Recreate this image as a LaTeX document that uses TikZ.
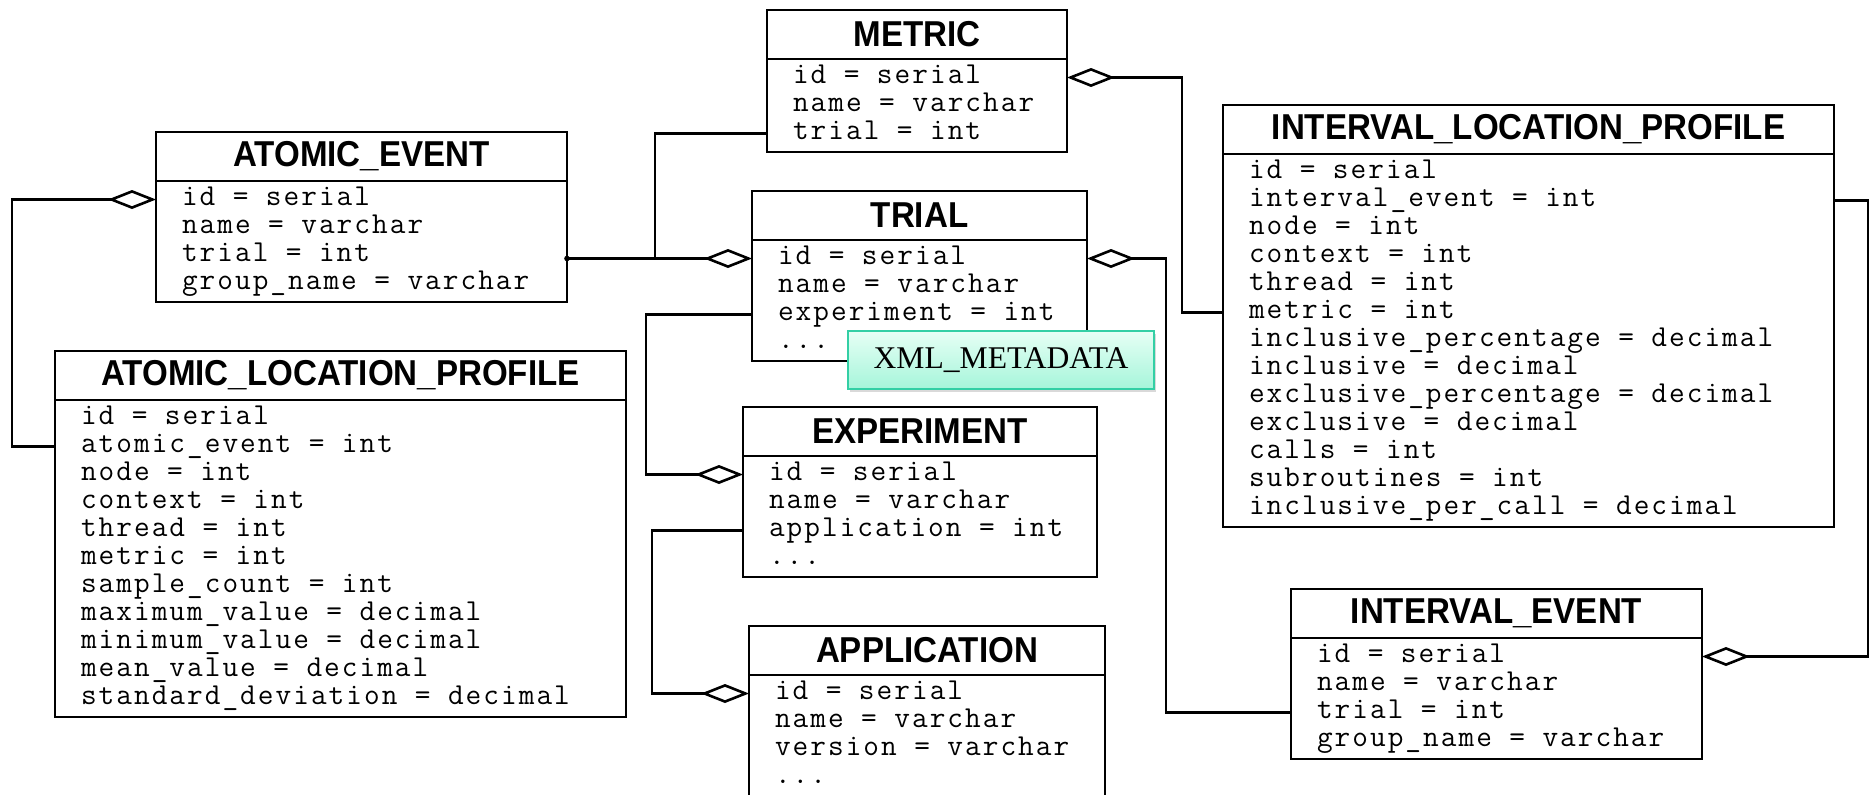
\documentclass[tikz,border=0pt]{standalone}
\usepackage{fontspec}
\newfontfamily\headfont{Liberation Sans}[FakeStretch=0.92]
\newfontfamily\notefont{Liberation Serif}
\newfontfamily\rowfont{Latin Modern Mono}[LetterSpace=6.7]
\usetikzlibrary{arrows.meta}
\usetikzlibrary{shadows}

\definecolor{xmledge}{HTML}{33CFA5}
\definecolor{xmltop}{HTML}{E6FFF5}
\definecolor{xmlbot}{HTML}{A6F5DA}

\begin{document}
\begin{tikzpicture}[x=0.5pt, y=-0.5pt,
		every node/.style={outer sep=0pt},
		head/.style={draw, line width=1.3pt, anchor=north west, minimum height=24.5pt, inner sep=0pt,
			font=\headfont\bfseries\fontsize{18}{18}\selectfont},
		body/.style={draw, line width=1.3pt, anchor=north west, inner xsep=13pt, inner ysep=2.25pt, align=left,
			font=\rowfont\fontsize{15.2}{14}\selectfont,
			execute at begin node={\lineskiplimit=-20pt\spaceskip=8.74pt\relax\strut}, execute at end node=\strut},
		link/.style={black, line width=1.3pt},
		agg/.style={link, -{Diamond[open, length=24pt, width=9.5pt]}}]
				\useasboundingbox (0,0) rectangle (1871,794);
				%
				\node [head, minimum width=150pt] (metric) at (767,10) {METRIC};
				\node [body, text width=124pt] (metricb) at (metric.south west) {id = serial\\name = varchar\\trial = int};
				%
				\node [head, minimum width=205.5pt] (ae) at (156,132) {ATOMIC\_EVENT};
				\node [body, text width=179.5pt] (aeb) at (ae.south west) {id = serial\\name = varchar\\trial = int\\group\_name = varchar};
				%
				\node [head, minimum width=167.5pt] (trial) at (752,191) {TRIAL};
				\node [body, text width=141.5pt] (trialb) at (trial.south west) {id = serial\\name = varchar\\experiment = int\\...};
				%
				\node [head, minimum width=305.5pt] (ilp) at (1223,105) {INTERVAL\_LOCATION\_PROFILE};
				\node [body, text width=279.5pt] (ilpb) at (ilp.south west) {id = serial\\interval\_event = int\\node = int\\context = int\\thread = int\\metric = int\\inclusive\_percentage = decimal\\inclusive = decimal\\exclusive\_percentage = decimal\\exclusive = decimal\\calls = int\\subroutines = int\\inclusive\_per\_call = decimal};
				%
				\node [head, minimum width=285.5pt] (alp) at (55,351) {ATOMIC\_LOCATION\_PROFILE};
				\node [body, text width=259.5pt] (alpb) at (alp.south west) {id = serial\\atomic\_event = int\\node = int\\context = int\\thread = int\\metric = int\\sample\_count = int\\maximum\_value = decimal\\minimum\_value = decimal\\mean\_value = decimal\\standard\_deviation = decimal};
				%
				\node [head, minimum width=177pt] (exp) at (743,407) {EXPERIMENT};
				\node [body, text width=151pt] (expb) at (exp.south west) {id = serial\\name = varchar\\application = int\\...};
				%
				\node [head, minimum width=178pt] (app) at (749,626) {APPLICATION};
				\node [body, text width=152pt] (appb) at (app.south west) {id = serial\\name = varchar\\version = varchar\\...};
				%
				\node [head, minimum width=205.5pt] (ie) at (1291,589) {INTERVAL\_EVENT};
				\node [body, text width=179.5pt] (ieb) at (ie.south west) {id = serial\\name = varchar\\trial = int\\group\_name = varchar};
				%
				\coordinate (tr1) at ([yshift=-9.25pt]trialb.north west);
				\coordinate (j1) at ([xshift=-48.5pt]tr1);
				%
				\draw [agg] ([yshift=-23.25pt]alpb.north west) -- ++(-43,0) |- ([yshift=-9.25pt]aeb.north west);
				\draw [agg] (aeb.east |- tr1) -- (tr1);
				\fill (aeb.east |- tr1) circle (1.4pt);
				\draw [link] ([yshift=-37.25pt]metricb.north west) -| (j1);
				\draw [agg] ([yshift=-37.25pt]trialb.north west) -- ++(-106,0) |- ([yshift=-9.25pt]expb.north west);
				\draw [agg] ([yshift=-37.25pt]expb.north west) -- ++(-91,0) |- ([yshift=-9.25pt]appb.north west);
				\draw [agg] ([yshift=-37.25pt]ieb.north west) -- ++(-125,0) |- ([yshift=-9.25pt]trialb.north east);
				\draw [agg] ([yshift=-79.25pt]ilpb.north west) -- ++(-41,0) |- ([yshift=-9.25pt]metricb.north east);
				\draw [agg] ([yshift=-23.25pt]ilpb.north east) -- ++(34,0) |- ([yshift=-9.25pt]ieb.north east);
				%
				\node [draw=xmledge, line width=1.2pt, top color=xmltop, bottom color=xmlbot, minimum width=153pt, minimum height=29pt,
					font=\notefont\fontsize{15.8}{15.8}\selectfont, drop shadow={opacity=0.3, shadow xshift=1pt, shadow yshift=-1.5pt}]
					(xml) at (1001,360) {XML\_METADATA};
		
			\end{tikzpicture}
\end{document}
